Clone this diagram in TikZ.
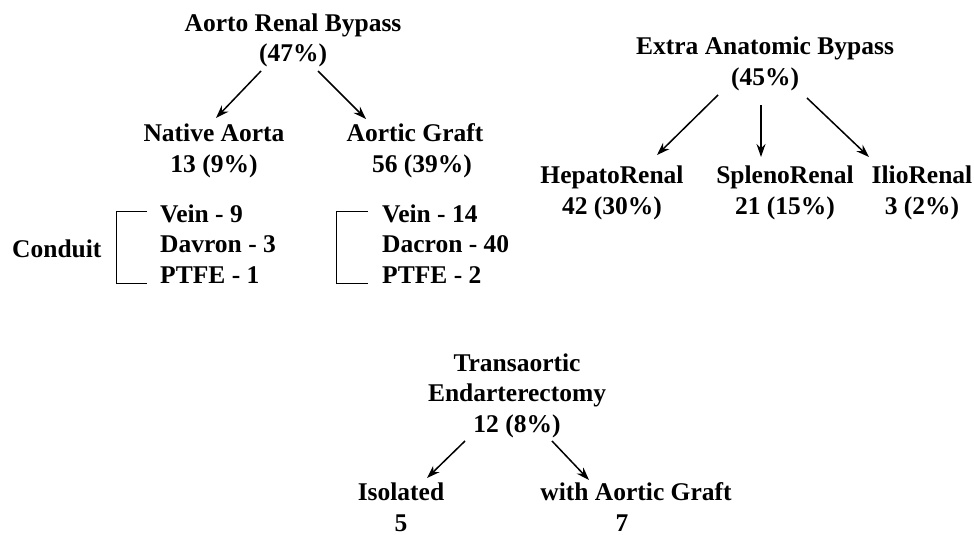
\documentclass[tikz,border=0pt]{standalone}
\usepackage{fontspec}
\setmainfont{Liberation Serif}
\usepackage{tikz}
\usetikzlibrary{arrows.meta,calc,positioning}

\begin{document}
\begin{tikzpicture}[
    x=1pt, y=-1pt,
    >={Stealth[length=13pt,width=9pt]},
    every node/.style={font=\fontsize{25.5}{30.5}\selectfont\bfseries, inner sep=0pt},
    head/.style={align=center, anchor=base},
    list/.style={align=left, anchor=base west},
    link/.style={->, line width=1.5pt},
    brace/.style={line width=0.9pt}
]
    \useasboundingbox (0,0) rectangle (974,535);

    % aorto renal bypass (anchors sit on the last line)
    \node[head] (arb) at (293,62) {Aorto Renal Bypass\\(47\%)};
    \node[head] (native) at (214,172) {Native Aorta\\13 (9\%)};
    \node[head] (graft) at (415,172) {Aortic Graft\\\hspace*{14pt}56 (39\%)};

    \node[anchor=base west] (conduit) at (12,257) {Conduit};
    \node[list] (nlist) at (160,283) {Vein - 9\\Davron - 3\\PTFE - 1};
    \node[list] (glist) at (382,283) {Vein - 14\\Dacron - 40\\PTFE - 2};

    \draw[brace] (147,211) -| (116,283) -- (147,283);
    \draw[brace] (368,211) -| (336,283) -- (368,283);

    \draw[link] ($(arb.base)+(-32,9)$) -- ($(native.base)+(2,-54)$);
    \draw[link] ($(arb.base)+(25,9)$) -- ($(graft.base)+(-49,-53)$);

    % extra anatomic bypass
    \node[head] (eab) at (765,85) {Extra Anatomic Bypass\\(45\%)};
    \node[head] (hep) at (612,214) {HepatoRenal\\42 (30\%)};
    \node[head] (spl) at (785,214) {SplenoRenal\\21 (15\%)};
    \node[head] (ilio) at (922,214) {IlioRenal\\3 (2\%)};

    \draw[link] ($(eab.base)+(-47,10)$) -- ($(hep.base)+(45,-59)$);
    \draw[link] ($(eab.base)+(-4,20)$) -- ($(spl.base)+(-24,-57)$);
    \draw[link] ($(eab.base)+(42,13)$) -- ($(ilio.base)+(-53,-57)$);

    % transaortic endarterectomy
    \node[head] (tae) at (517,432) {Transaortic\\Endarterectomy\\12 (8\%)};
    \node[head] (iso) at (401,531) {Isolated\\5};
    \node[head] (wag) at (636,531) {with Aortic Graft\\\hspace*{-28pt}7};

    \draw[link] ($(tae.base)+(-52,9)$) -- ($(iso.base)+(26,-53)$);
    \draw[link] ($(tae.base)+(35,9)$) -- ($(wag.base)+(-47,-51)$);
\end{tikzpicture}
\end{document}
